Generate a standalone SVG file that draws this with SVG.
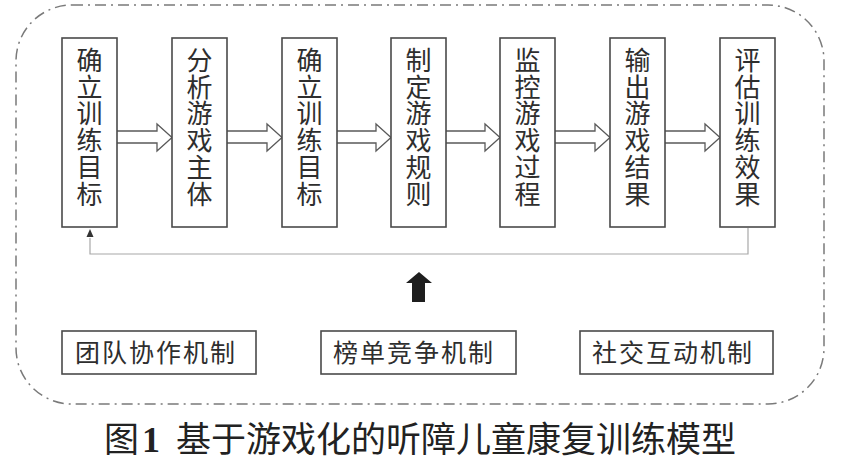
<svg xmlns="http://www.w3.org/2000/svg" width="841" height="463" viewBox="0 0 841 463">
<style>
.frame{fill:none;stroke:#7a7a7a;stroke-width:1.5;stroke-dasharray:11 5 2 5}
.box{fill:#fff;stroke:#4a4a4a;stroke-width:1.6}
.vt{font-family:"Noto Sans CJK SC","Noto Sans",sans-serif;font-size:26px;fill:#2e2e2e;writing-mode:vertical-rl;text-orientation:upright;letter-spacing:0.8px}
.ht{font-family:"Noto Sans CJK SC","Noto Sans",sans-serif;font-size:25px;fill:#2e2e2e;letter-spacing:2px}
.hollow{fill:#fff;stroke:#5a5a5a;stroke-width:1.3;stroke-linejoin:miter}
.fb{fill:none;stroke:#a8a8a8;stroke-width:1.2}
.cap{font-family:"Noto Sans CJK SC","Noto Sans",sans-serif;font-size:35px;fill:#222}
</style>
<rect class="frame" x="16" y="5" width="808" height="399" rx="56" ry="56"/>

<g id="connectors">
<path class="hollow" d="M117,131 H157 V124 L172,137.5 L157,151 V143 H117"/>
<path class="hollow" d="M227,131 H267 V124 L282,137.5 L267,151 V143 H227"/>
<path class="hollow" d="M337,131 H376 V124 L391,137.5 L376,151 V143 H337"/>
<path class="hollow" d="M446,131 H485 V124 L500,137.5 L485,151 V143 H446"/>
<path class="hollow" d="M555,131 H595 V124 L610,137.5 L595,151 V143 H555"/>
<path class="hollow" d="M665,131 H705 V124 L720,137.5 L705,151 V143 H665"/>
<path class="fb" d="M748,228 V254 H90 V238"/>
<path d="M90,229 L86.5,237 L93.5,237 Z" fill="#333"/>
<path d="M419,272 L432,283 L425,283 L425,302 L412,302 L412,283 L406,283 Z" fill="#1e1e1e"/>
</g>

<g id="n1"><rect class="box" x="62" y="38" width="55" height="189"/><text class="vt" x="89.5" y="47">确立训练目标</text></g>
<g id="n2"><rect class="box" x="172" y="38" width="55" height="189"/><text class="vt" x="199.5" y="47">分析游戏主体</text></g>
<g id="n3"><rect class="box" x="282" y="38" width="55" height="189"/><text class="vt" x="309.5" y="47">确立训练目标</text></g>
<g id="n4"><rect class="box" x="391" y="38" width="55" height="189"/><text class="vt" x="418.5" y="47">制定游戏规则</text></g>
<g id="n5"><rect class="box" x="500" y="38" width="55" height="189"/><text class="vt" x="527.5" y="47">监控游戏过程</text></g>
<g id="n6"><rect class="box" x="610" y="38" width="55" height="189"/><text class="vt" x="637.5" y="47">输出游戏结果</text></g>
<g id="n7"><rect class="box" x="720" y="38" width="55" height="189"/><text class="vt" x="747.5" y="47">评估训练效果</text></g>

<g id="m1"><rect class="box" x="62" y="331" width="194" height="43"/><text class="ht" x="75" y="362">团队协作机制</text></g>
<g id="m2"><rect class="box" x="321" y="331" width="195" height="43"/><text class="ht" x="333" y="362">榜单竞争机制</text></g>
<g id="m3"><rect class="box" x="580" y="331" width="193" height="43"/><text class="ht" x="592" y="362">社交互动机制</text></g>

<g id="caption">
<text class="cap" x="104" y="452">图</text>
<text x="142" y="452" style="font-family:'Liberation Serif',serif;font-weight:bold;font-size:36px;fill:#222">1</text>
<text class="cap" x="176" y="452">基于游戏化的听障儿童康复训练模型</text>
</g>
</svg>
